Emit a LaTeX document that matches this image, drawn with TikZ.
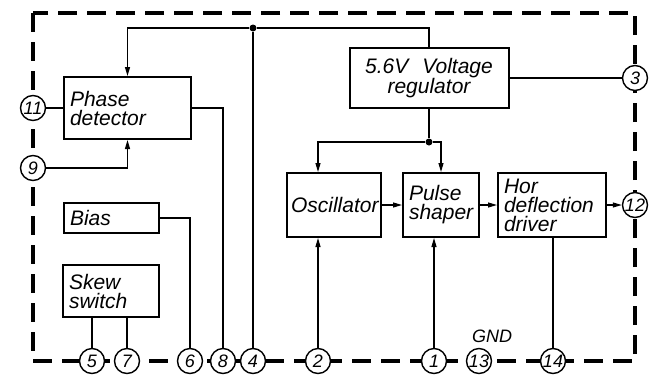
\documentclass[tikz,border=0pt]{standalone}
\usepackage{fontspec}
\setmainfont{Liberation Sans}
\usetikzlibrary{arrows.meta, positioning, calc}

\begin{document}
\begin{tikzpicture}[x=1pt, y=-1pt,
      block/.style={rectangle, draw, line width=2pt, inner xsep=6pt, inner ysep=2pt,
                    font=\fontsize{21}{19}\selectfont\itshape, align=left},
      term/.style={circle, draw, line width=1.4pt, fill=white, minimum size=25pt,
                   inner sep=0pt, font=\fontsize{18}{18}\selectfont\itshape},
      wire/.style={line width=1.2pt},
      arr/.style={wire, -{Triangle[length=9pt, width=5pt]}},
      border/.style={line width=3.6pt, dash pattern=on 19pt off 10pt},
      dot/.style={circle, fill, inner sep=0pt, minimum size=7pt}
    ]
    \useasboundingbox (0,0) rectangle (653,381);
    \draw[border] (33,13) rectangle (635,361);

    \node[block, text width=115pt, minimum height=62pt] (phase) at (127.5,108) {Phase\\detector};
    \node[block, text width=147pt, minimum height=60pt, align=center] (reg) at (429,78) {5.6V\ \ Voltage\\regulator};
    \node[block, text width=83pt, minimum height=30pt] (bias) at (111.5,218) {Bias};
    \node[block, text width=84pt, minimum height=52pt] (skew) at (111,291) {Skew\\switch};
    \node[block, text width=82pt, minimum height=64pt, inner xsep=4pt, text width=86pt] (osc) at (334,205) {Oscillator};
    \node[block, text width=64pt, minimum height=64pt] (pulse) at (441,205) {Pulse\\shaper};
    \node[block, text width=96pt, minimum height=64pt] (hor) at (552,205) {Hor\\deflection\\driver};

    \node[term] (p11) at (33,108) {11};
    \node[term] (p9) at (33,168) {9};
    \node[term] (p3) at (635,78) {3};
    \node[term] (p12) at (635,205) {12};
    \foreach \n/\x in {5/92, 7/127, 6/190, 8/223, 4/253, 2/318, 1/434, 13/479, 14/553}
      \node[term] (p\n) at (\x,361) {\n};
    \node[font=\fontsize{18}{18}\selectfont\itshape] (gnd) at (492,336) {GND};

    \node[dot] (jtop) at (253,28) {};
    \node[dot] (jreg) at (429,142) {};

    \draw[wire] (p4) -- (jtop);
    \draw[arr] (jtop) -| (phase.north);
    \draw[wire] (jtop) -| (reg.north);
    \draw[wire] (p11) -- (phase.west |- p11);
    \draw[arr] (p9) -| (phase.south);
    \draw[wire] (phase.east) -| (p8);
    \draw[wire] (bias.east) -| (p6);
    \draw[wire] (skew.south -| p5) -- (p5);
    \draw[wire] (skew.south -| p7) -- (p7);
    \draw[wire] (reg.east) -- (p3);
    \draw[wire] (reg.south) -- (jreg);
    \draw[arr] (jreg) -| (p2 |- osc.north);
    \draw[arr] (jreg) -| (pulse.north);
    \draw[arr] (p2) -- (p2 |- osc.south);
    \draw[arr] (p1) -- (p1 |- pulse.south);
    \draw[arr] (osc) -- (pulse);
    \draw[arr] (pulse) -- (hor);
    \draw[arr] (hor) -- (p12);
    \draw[wire] (hor.south -| p14) -- (p14);
  \end{tikzpicture}
\end{document}
